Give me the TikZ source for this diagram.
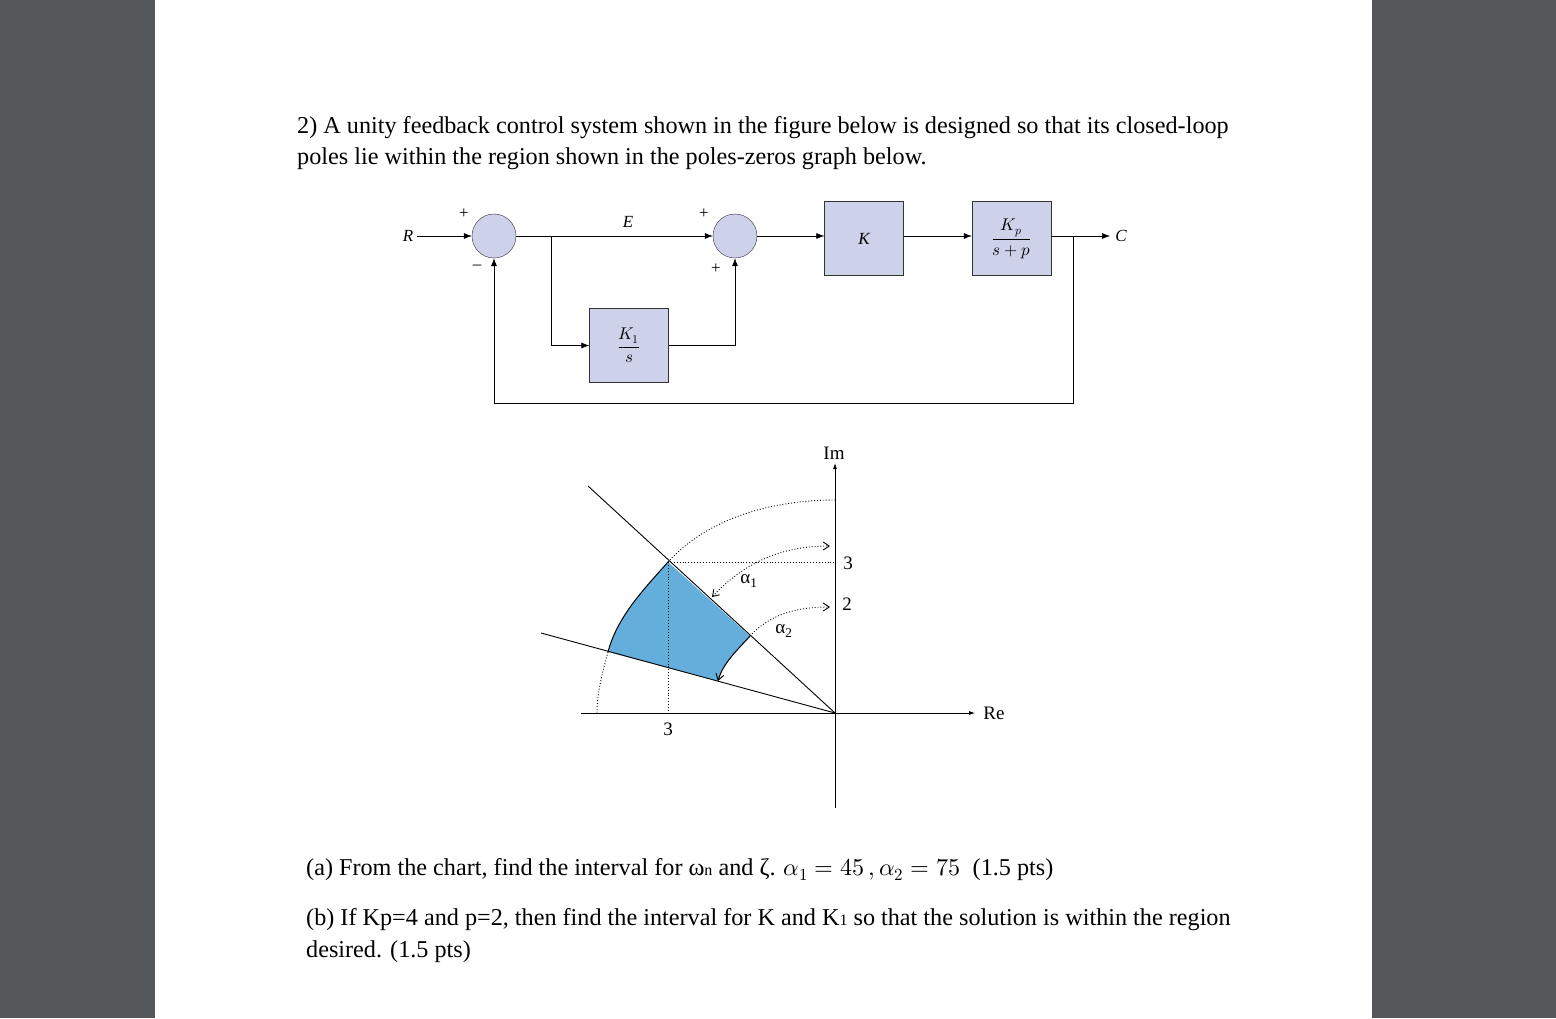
\documentclass[tikz,border=0pt]{standalone}
\usepackage{fontspec}
\usepackage{unicode-math}
\setmainfont{Liberation Serif}
\setmathfont{Latin Modern Math}
\usetikzlibrary{arrows.meta}
\definecolor{bgray}{HTML}{54585B}
\definecolor{blk}{HTML}{CDD1EA}
\definecolor{reg}{HTML}{64AEDC}
\begin{document}
\begin{tikzpicture}[x=1pt,y=-1pt,
  box/.style={draw=black!80,fill=blk,minimum width=79pt,minimum height=74pt,inner sep=0pt,font=\fontsize{17}{19}\selectfont\itshape},
  sig/.style={-{Latex[length=8pt,width=6pt]},line width=0.6pt},
  lbl/.style={font=\fontsize{17}{19}\selectfont\itshape},
  sgn/.style={font=\fontsize{17}{19}\selectfont},
  dt/.style={dotted,line width=0.9pt},
  oa/.style={-{Straight Barb[length=6pt,width=8pt]}},
  gl/.style={font=\fontsize{19}{22}\selectfont},
  txt/.style={anchor=base west,inner sep=0pt,font=\fontsize{24.2}{28}\selectfont}]
\useasboundingbox (0,0) rectangle (1556,1018);
\fill[bgray] (0,0) rectangle (1556,1018);
\fill[white] (155,0) rectangle (1372,1018);
% text
\node[txt] (t1) at (297,133) {2) A unity feedback control system shown in the figure below is designed so that its closed-loop};
\node[txt] (t2) at (297,164) {poles lie within the region shown in the poles-zeros graph below.};
\node[txt] (t3) at (306,875) {(a) From the chart, find the interval for ω{\fontsize{16}{16}\selectfont n} and ζ. $\alpha_1 = 45\,, \alpha_2 = 75$ \ (1.5 pts)};
\node[txt] (t4) at (306,925) {(b) If Kp=4 and p=2, then find the interval for K and K{\fontsize{16}{16}\selectfont 1} so that the solution is within the region};
\node[txt] (t5) at (306,957) {desired. (1.5 pts)};
% block diagram
\node[draw=black!80,fill=blk,circle,minimum size=44pt,inner sep=0pt] (s1) at (494,236) {};
\node[draw=black!80,fill=blk,circle,minimum size=44pt,inner sep=0pt] (s2) at (735,236) {};
\node[box] (bk) at (864,238.5) {K};
\node[box] (bp) at (1011.5,238.5) {$\dfrac{K_p}{s+p}$};
\node[box] (b1) at (629,345.5) {$\dfrac{K_1}{s}$};
\node[lbl] (R) at (408,236) {R};
\node[lbl] (C) at (1121,236) {C};
\node[lbl] (E) at (628,222) {E};
\node[sgn] (p1) at (464,214) {+};
\node[sgn] (m1) at (477,267) {–};
\node[sgn] (p2) at (704,214) {+};
\node[sgn] (p3) at (716,269) {+};
\coordinate (j1) at (551,236);
\coordinate (j2) at (1073,236);
\coordinate (cend) at (1110,236);
\draw[sig] (R) -- (s1);
\draw[sig] (s1) -- (s2);
\draw[sig] (s2.east) -- (s2.east -| bk.west);
\draw[sig] (bk.east |- s2) -- (bp.west |- s2);
\draw[sig] (bp.east |- s2) -- (cend);
\draw[sig] (j1) |- (b1);
\draw[sig] (b1) -| (s2);
\draw[sig] (j2) |- (494,403) -- (s1);
% pole-zero graph
\coordinate (O) at (835,713);
\coordinate (A) at (668,562);
\coordinate (B) at (750,636);
\coordinate (Cc) at (718,681);
\coordinate (D) at (608,652);
\fill[reg] (A) -- (B) .. controls (737.5,650) and (723,663) .. (Cc) -- (D) .. controls (617,617) and (644,589) .. (A) -- cycle;
\draw[line width=1pt] (A) .. controls (644,589) and (617,617) .. (D);
\draw[line width=1pt,oa] (B) .. controls (737.5,650) and (723,663) .. (Cc);
\draw[line width=0.9pt] (O) -- (588,486);
\draw[line width=0.9pt] (O) -- (541,633);
\draw[-{Latex[length=6pt,width=4pt]},line width=0.8pt] (581,713) -- (975,713);
\draw[-{Latex[length=6pt,width=4pt]},line width=0.8pt] (835,808) -- (835,463);
\draw[dt] (A) .. controls (709,517) and (774,500) .. (835,500);
\draw[dt] (D) .. controls (602.6,672) and (597,692) .. (597,713);
\draw[dt] (A) -- (835,562);
\draw[dt] (A) -- (668,713);
\draw[dt,{Straight Barb[length=6pt,width=8pt]}-{Straight Barb[length=6pt,width=8pt]}] (712,597) .. controls (745,562) and (782,546) .. (830,546);
\draw[dt,oa] (B) .. controls (771,613) and (799,607) .. (830,607);
\node[gl] (n3) at (848,563) {3};
\node[gl] (n2) at (847,604) {2};
\node[gl] (n3b) at (668,729) {3};
\node[gl] (a1) at (749,581) {α\textsubscript{1}};
\node[gl] (a2) at (784,631) {α\textsubscript{2}};
\node[gl] (im) at (834,453) {Im};
\node[gl] (re) at (994,713) {Re};
\end{tikzpicture}
\end{document}
